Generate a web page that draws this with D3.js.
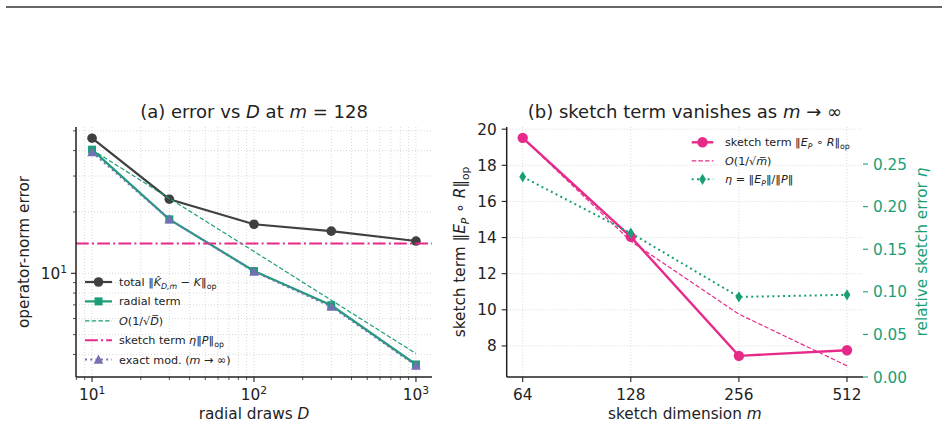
<!DOCTYPE html>
<html><head><meta charset="utf-8">
<script src="https://cdn.jsdelivr.net/npm/d3@7"></script>
<style>body{margin:0;background:#fff}svg{display:block;font-family:"DejaVu Sans",sans-serif}</style>
</head><body>
<script>
// ---------- data ----------
const drawsD = [10, 30, 100, 300, 1000];
const totalErr = [46.0, 23.1, 17.4, 16.1, 14.4];
const radialErr = [40.4, 18.4, 10.26, 6.97, 3.57];
const rateD = [40.4, 23.3, 12.8, 7.38, 4.04];
const exactErr = [39.3, 18.4, 10.2, 6.87, 3.53];
const sketchLevel = 14.0;
const xTicksA = [10, 100, 1000];
const xTickExpA = ["1", "2", "3"];
const yTicksA = [10];

const sketchM = [64, 128, 256, 512];
const sketchTerm = [19.52, 14.04, 7.45, 7.76];
const rateM = [19.52, 13.8, 9.76, 6.9];
const etaRel = [0.235, 0.169, 0.094, 0.0965];
const yTicksB = [8, 10, 12, 14, 16, 18, 20];
const etaTicks = [0.00, 0.05, 0.10, 0.15, 0.20, 0.25];

// ---------- colours ----------
const cTotal = "#404040", cGreen = "#1b9e77", cPurple = "#7570b3", cPink = "#e7298a";
const cText = "#222", cGrid = "#cfcfcf";

const W = 948, H = 427;
const svg = d3.select("body").append("svg").attr("width", W).attr("height", H);

svg.append("line").attr("x1", 6).attr("x2", 942).attr("y1", 7).attr("y2", 7)
  .attr("stroke", "#333").attr("stroke-width", 1.7);

function rich(sel, segs, fs) {
  let shift = 0;
  segs.forEach(s => {
    if (typeof s === "string") s = {t: s};
    const target = s.sub ? 0.24 * fs : s.sup ? -0.42 * fs : 0;
    const ts = sel.append("tspan").text(s.t).attr("dy", target - shift);
    shift = target;
    if (s.i) ts.attr("font-style", "italic");
    if (s.sub || s.sup) ts.attr("font-size", fs * 0.7);
  });
  return sel;
}
function txt(g, x, y, segs, fs, opts = {}) {
  const t = g.append("text").attr("x", x).attr("y", y).attr("font-size", fs)
    .attr("fill", opts.fill || cText).attr("text-anchor", opts.anchor || "start");
  if (opts.rotate) t.attr("transform", `rotate(${opts.rotate},${x},${y})`);
  return rich(t, segs, fs);
}
function marker(g, type, x, y, color) {
  if (type === "circle") g.append("circle").attr("cx", x).attr("cy", y).attr("r", 4.8).attr("fill", color);
  else if (type === "bigcircle") g.append("circle").attr("cx", x).attr("cy", y).attr("r", 5.2).attr("fill", color);
  else if (type === "square") g.append("rect").attr("x", x - 4).attr("y", y - 4).attr("width", 8).attr("height", 8).attr("fill", color);
  else if (type === "triangle") g.append("path").attr("d", `M${x},${y - 5}L${x + 4.8},${y + 4.2}L${x - 4.8},${y + 4.2}Z`).attr("fill", color);
  else if (type === "diamond") g.append("path").attr("d", `M${x},${y - 5.6}L${x + 3.4},${y}L${x},${y + 5.6}L${x - 3.4},${y}Z`).attr("fill", color);
}

// ================= Panel A =================
const A = {l: 76, r: 432, t: 127, b: 377};
const xA = d3.scaleLog().domain([7.96, 1256]).range([A.l, A.r]);
const yA = d3.scaleLog().domain([3.1, 52.2]).range([A.b, A.t]);
const gA = svg.append("g");

// grid (major + minor)
xA.ticks().forEach(v => gA.append("line").attr("x1", xA(v)).attr("x2", xA(v)).attr("y1", A.t).attr("y2", A.b)
  .attr("stroke", cGrid).attr("stroke-width", 0.8).attr("stroke-dasharray", "1,2"));
yA.ticks().forEach(v => gA.append("line").attr("x1", A.l).attr("x2", A.r).attr("y1", yA(v)).attr("y2", yA(v))
  .attr("stroke", cGrid).attr("stroke-width", 0.8).attr("stroke-dasharray", "1,2"));

const lineA = (ys) => d3.line().x((d, i) => xA(drawsD[i])).y(d => yA(d))(ys);

gA.append("path").attr("d", lineA(totalErr)).attr("fill", "none").attr("stroke", cTotal).attr("stroke-width", 2.2);
totalErr.forEach((v, i) => marker(gA, "circle", xA(drawsD[i]), yA(v), cTotal));
gA.append("path").attr("d", lineA(radialErr)).attr("fill", "none").attr("stroke", cGreen).attr("stroke-width", 2.2);
radialErr.forEach((v, i) => marker(gA, "square", xA(drawsD[i]), yA(v), cGreen));
gA.append("path").attr("d", lineA(rateD)).attr("fill", "none").attr("stroke", cGreen).attr("stroke-width", 1.2).attr("stroke-dasharray", "4.5,2.2");
gA.append("line").attr("x1", A.l).attr("x2", A.r).attr("y1", yA(sketchLevel)).attr("y2", yA(sketchLevel))
  .attr("stroke", cPink).attr("stroke-width", 2).attr("stroke-dasharray", "12.8,3.2,2,3.2");
gA.append("path").attr("d", lineA(exactErr)).attr("fill", "none").attr("stroke", cPurple).attr("stroke-width", 2).attr("stroke-dasharray", "2,3.3");
exactErr.forEach((v, i) => marker(gA, "triangle", xA(drawsD[i]), yA(v), cPurple));

// axes
xA.ticks().forEach(v => {
  const maj = xTicksA.includes(v);
  gA.append("line").attr("x1", xA(v)).attr("x2", xA(v)).attr("y1", A.b).attr("y2", A.b + (maj ? 5 : 3))
    .attr("stroke", cText).attr("stroke-width", maj ? 1.1 : 0.8);
});
yA.ticks().forEach(v => {
  const maj = yTicksA.includes(v);
  gA.append("line").attr("x1", A.l).attr("x2", A.l - (maj ? 5 : 3)).attr("y1", yA(v)).attr("y2", yA(v))
    .attr("stroke", cText).attr("stroke-width", maj ? 1.1 : 0.8);
});
gA.append("line").attr("x1", A.l).attr("x2", A.l).attr("y1", A.t).attr("y2", A.b).attr("stroke", cText).attr("stroke-width", 1.5);
gA.append("line").attr("x1", A.l).attr("x2", A.r).attr("y1", A.b).attr("y2", A.b).attr("stroke", cText).attr("stroke-width", 1.5);
xTicksA.forEach((v, i) => txt(gA, xA(v), 400, ["10", {t: xTickExpA[i], sup: true}], 15.3, {anchor: "middle"}));
yTicksA.forEach(v => txt(gA, 67, yA(v) + 6, ["10", {t: "1", sup: true}], 15.3, {anchor: "end"}));

txt(gA, (A.l + A.r) / 2, 419, ["radial draws ", {t: "D", i: true}], 15.3, {anchor: "middle"});
txt(gA, 29, (A.t + A.b) / 2, ["operator-norm error"], 15.3, {anchor: "middle", rotate: -90});
txt(gA, (A.l + A.r) / 2, 118, ["(a) error vs ", {t: "D", i: true}, " at ", {t: "m", i: true}, " = 128"], 18, {anchor: "middle"});

// legend A
const legA = [
  {c: cTotal, w: 2.2, dash: null, m: "circle", segs: ["total ‖", {t: "K\u0302", i: true}, {t: "D,m", i: true, sub: true}, " − ", {t: "K", i: true}, "‖", {t: "op", sub: true}]},
  {c: cGreen, w: 2.2, dash: null, m: "square", segs: ["radial term"]},
  {c: cGreen, w: 1.2, dash: "4.5,2.2", m: null, segs: [{t: "O", i: true}, "(1/√", {t: "D\u0305", i: true}, ")"]},
  {c: cPink, w: 2, dash: "12.8,3.2,2,3.2", m: null, segs: ["sketch term ", {t: "η", i: true}, "‖", {t: "P", i: true}, "‖", {t: "op", sub: true}]},
  {c: cPurple, w: 2, dash: "2,3.3", m: "triangle", segs: ["exact mod. (", {t: "m", i: true}, " → ∞)"]}
];
legA.forEach((e, i) => {
  const y = 282 + i * 19.4;
  const l = gA.append("line").attr("x1", 85).attr("x2", 112).attr("y1", y).attr("y2", y).attr("stroke", e.c).attr("stroke-width", e.w);
  if (e.dash) l.attr("stroke-dasharray", e.dash);
  if (e.m) marker(gA, e.m, 98.5, y, e.c);
  txt(gA, 119, y + 4, e.segs, 11.2);
});

// ================= Panel B =================
const B = {l: 506.7, r: 863, t: 127, b: 377};
const xB = d3.scaleLog().base(2).domain([Math.pow(2, 5.852), Math.pow(2, 9.148)]).range([B.l, B.r]);
const yB = d3.scaleLinear().domain([6.28, 20.12]).range([B.b, B.t]);
const yE = d3.scaleLinear().domain([0, 0.2935]).range([B.b, B.t]);
const gB = svg.append("g");

sketchM.forEach(v => gB.append("line").attr("x1", xB(v)).attr("x2", xB(v)).attr("y1", B.t).attr("y2", B.b)
  .attr("stroke", cGrid).attr("stroke-width", 0.8).attr("stroke-dasharray", "1,2"));
yTicksB.forEach(v => gB.append("line").attr("x1", B.l).attr("x2", B.r).attr("y1", yB(v)).attr("y2", yB(v))
  .attr("stroke", cGrid).attr("stroke-width", 0.8).attr("stroke-dasharray", "1,2"));

const lineB = (ys, sc) => d3.line().x((d, i) => xB(sketchM[i])).y(d => sc(d))(ys);
gB.append("path").attr("d", lineB(sketchTerm, yB)).attr("fill", "none").attr("stroke", cPink).attr("stroke-width", 2.4);
sketchTerm.forEach((v, i) => marker(gB, "bigcircle", xB(sketchM[i]), yB(v), cPink));
gB.append("path").attr("d", lineB(rateM, yB)).attr("fill", "none").attr("stroke", cPink).attr("stroke-width", 1.2).attr("stroke-dasharray", "4.5,2.2");
gB.append("path").attr("d", lineB(etaRel, yE)).attr("fill", "none").attr("stroke", cGreen).attr("stroke-width", 2).attr("stroke-dasharray", "2,3.3");
etaRel.forEach((v, i) => marker(gB, "diamond", xB(sketchM[i]), yE(v), cGreen));

// axes B
sketchM.forEach(v => {
  gB.append("line").attr("x1", xB(v)).attr("x2", xB(v)).attr("y1", B.b).attr("y2", B.b + 5).attr("stroke", cText).attr("stroke-width", 1.1);
  txt(gB, xB(v), 400, [String(v)], 15.3, {anchor: "middle"});
});
yTicksB.forEach(v => {
  gB.append("line").attr("x1", B.l).attr("x2", B.l - 5).attr("y1", yB(v)).attr("y2", yB(v)).attr("stroke", cText).attr("stroke-width", 1.1);
  txt(gB, B.l - 10, yB(v) + 5.5, [String(v)], 15.3, {anchor: "end"});
});
etaTicks.forEach(v => {
  gB.append("line").attr("x1", B.r).attr("x2", B.r + 5).attr("y1", yE(v)).attr("y2", yE(v)).attr("stroke", cGreen).attr("stroke-width", 1.1);
  txt(gB, B.r + 10, yE(v) + 5.5, [v.toFixed(2)], 15.3, {fill: cGreen});
});
gB.append("line").attr("x1", B.l).attr("x2", B.l).attr("y1", B.t).attr("y2", B.b).attr("stroke", cText).attr("stroke-width", 1.5);
gB.append("line").attr("x1", B.l).attr("x2", B.r).attr("y1", B.b).attr("y2", B.b).attr("stroke", cText).attr("stroke-width", 1.5);

txt(gB, (B.l + B.r) / 2, 419, ["sketch dimension ", {t: "m", i: true}], 15.3, {anchor: "middle"});
txt(gB, 465, (B.t + B.b) / 2, ["sketch term ‖", {t: "E", i: true}, {t: "P", i: true, sub: true}, " ∘ ", {t: "R", i: true}, "‖", {t: "op", sub: true}], 15.3, {anchor: "middle", rotate: -90});
txt(gB, 926.5, (B.t + B.b) / 2, ["relative sketch error ", {t: "η", i: true}], 15.3, {anchor: "middle", rotate: -90, fill: cGreen});
txt(gB, (B.l + B.r) / 2, 118, ["(b) sketch term vanishes as ", {t: "m", i: true}, " → ∞"], 18, {anchor: "middle"});

const legB = [
  {c: cPink, w: 2.4, dash: null, m: "bigcircle", segs: ["sketch term ‖", {t: "E", i: true}, {t: "P", i: true, sub: true}, " ∘ ", {t: "R", i: true}, "‖", {t: "op", sub: true}]},
  {c: cPink, w: 1.2, dash: "4.5,2.2", m: null, segs: [{t: "O", i: true}, "(1/√", {t: "m\u0305", i: true}, ")"]},
  {c: cGreen, w: 2, dash: "2,3.3", m: "diamond", segs: [{t: "η", i: true}, " = ‖", {t: "E", i: true}, {t: "P", i: true, sub: true}, "‖/‖", {t: "P", i: true}, "‖"]}
];
legB.forEach((e, i) => {
  const y = 142.3 + i * 18.5;
  const l = gB.append("line").attr("x1", 691.7).attr("x2", 713.3).attr("y1", y).attr("y2", y).attr("stroke", e.c).attr("stroke-width", e.w);
  if (e.dash) l.attr("stroke-dasharray", e.dash);
  if (e.m) marker(gB, e.m, 702.5, y, e.c);
  txt(gB, 725, y + 4, e.segs, 11.2);
});
</script>
</body></html>
